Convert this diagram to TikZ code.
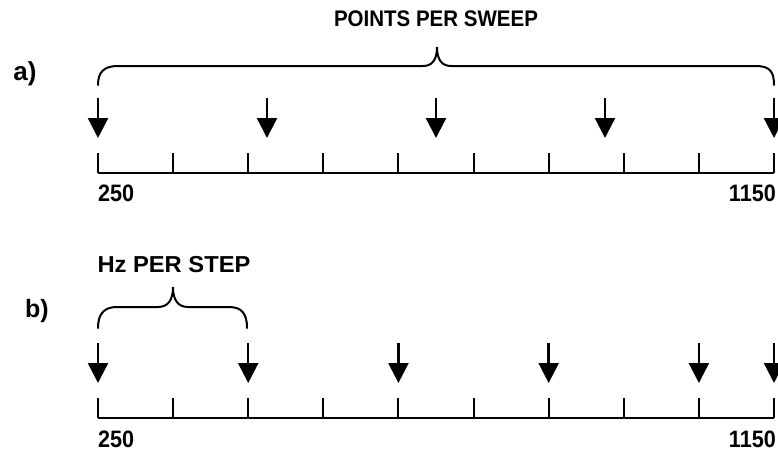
\documentclass[tikz,border=0pt]{standalone}
\usepackage{fontspec}
\setmainfont{Liberation Sans}
\usepackage{graphicx}
\usetikzlibrary{arrows.meta}
\tikzset{
  axisline/.style={line width=2.2pt},
  tickline/.style={line width=2pt},
  braceline/.style={line width=2pt, line cap=round},
  downarrow/.style={line width=2.4pt, -{Triangle[width=20pt,length=20pt]}},
  lbl/.style={inner sep=0pt, font=\bfseries},
}
\begin{document}
\begin{tikzpicture}[x=1pt,y=-1pt]
\useasboundingbox (0,0) rectangle (778,452);
\fill[white] (0,0) rectangle (778,452);

% ---------- panel a ----------
\node[lbl, font=\fontsize{26}{30}\selectfont\bfseries] (la) at (25,74) {a)};
\node[lbl, font=\fontsize{20.5}{24}\selectfont\bfseries] (ta) at (436,19) {\scalebox{1}[1.1]{POINTS PER SWEEP}};

% brace a
\draw[braceline] (98,85) .. controls (98,72) and (104,66) .. (118,66)
  -- (423,66) .. controls (432,66) and (437,60) .. (437,47)
  .. controls (437,60) and (442,66) .. (451,66)
  -- (756,66) .. controls (770,66) and (774,72) .. (774,85);

% axis a
\coordinate (a0) at (98,173);
\coordinate (a9) at (774,173);
\draw[axisline] (a0) -- (a9);
\foreach \i in {0,...,9} {
  \draw[tickline] ({98+75.111*\i},153) -- ({98+75.111*\i},173);
}
% arrows a
\foreach \i in {0,...,4} {
  \coordinate (ast\i) at ({98+169*\i},98);
  \coordinate (aen\i) at ({98+169*\i},138);
  \draw[downarrow] (ast\i) -- (aen\i);
}
\node[lbl, font=\fontsize{21.6}{24}\selectfont\bfseries, anchor=west] (a250) at (98,193) {\scalebox{1}[1.1]{250}};
\node[lbl, font=\fontsize{21.6}{24}\selectfont\bfseries, anchor=east] (a1150) at (776,193) {\scalebox{1}[1.1]{1150}};

% ---------- panel b ----------
\node[lbl, font=\fontsize{25}{30}\selectfont\bfseries] (lb) at (37,311) {b)};
\node[lbl, font=\fontsize{21}{24}\selectfont\bfseries] (tb) at (174,265) {\scalebox{1.13}[1.1]{Hz PER STEP}};

% brace b
\draw[braceline] (98,328) .. controls (98,314) and (104,307) .. (117,307)
  -- (158,307) .. controls (168,307) and (173,300) .. (173,287)
  .. controls (173,300) and (178,307) .. (188,307)
  -- (229,307) .. controls (242,307) and (247,314) .. (247,328);

% axis b
\coordinate (b0) at (98,418);
\coordinate (b9) at (774,418);
\draw[axisline] (b0) -- (b9);
\foreach \i in {0,...,9} {
  \draw[tickline] ({98+75.111*\i},398) -- ({98+75.111*\i},418);
}
% arrows b
\foreach \i in {0,2,4,6,8,9} {
  \coordinate (bst\i) at ({98+75.111*\i},343);
  \coordinate (ben\i) at ({98+75.111*\i},383);
  \draw[downarrow] (bst\i) -- (ben\i);
}
\node[lbl, font=\fontsize{21.6}{24}\selectfont\bfseries, anchor=west] (b250) at (98,439) {\scalebox{1}[1.1]{250}};
\node[lbl, font=\fontsize{21.6}{24}\selectfont\bfseries, anchor=east] (b1150) at (776,439) {\scalebox{1}[1.1]{1150}};
\end{tikzpicture}
\end{document}
